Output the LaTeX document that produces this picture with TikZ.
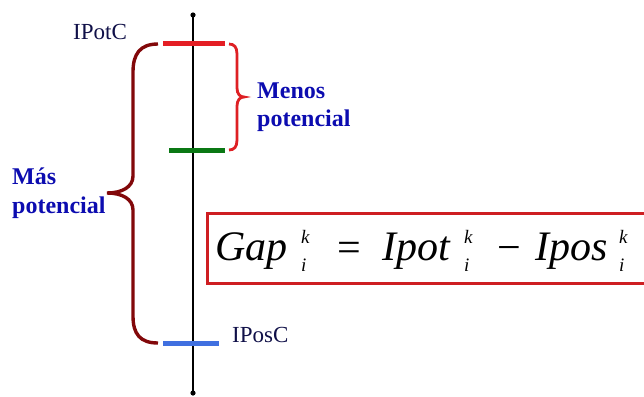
\documentclass[tikz,border=0pt]{standalone}
\usepackage{fontspec}
\setmainfont{Liberation Serif}
\definecolor{barred}{RGB}{228,30,36}
\definecolor{bracered}{RGB}{222,32,36}
\definecolor{darkred}{RGB}{130,8,10}
\definecolor{bargreen}{RGB}{10,120,20}
\definecolor{barblue}{RGB}{64,112,224}
\definecolor{txtblue}{RGB}{12,12,176}
\definecolor{navy}{RGB}{16,16,72}
\definecolor{boxred}{RGB}{206,30,34}
\newcommand\kistack{\begin{tabular}[t]{@{}l@{}}k\\[9pt] i\end{tabular}}
\begin{document}
\begin{tikzpicture}[x=1pt,y=-1pt,
  bar/.style={line width=5pt},
  lvl/.style={font=\fontsize{23}{23}\selectfont, text=navy, anchor=base west, inner sep=0pt},
  bluetxt/.style={font=\fontsize{24}{24}\selectfont\bfseries, text=txtblue, anchor=base west, inner sep=0pt},
  big/.style={font=\fontsize{42}{42}\selectfont\itshape, anchor=base west, inner sep=0pt},
  bigop/.style={font=\fontsize{42}{42}\selectfont, anchor=base west, inner sep=0pt},
  idx/.style={font=\fontsize{19}{19}\selectfont\itshape, anchor=base west, inner sep=0pt},
  frame/.style={draw=boxred, line width=3pt, anchor=north west, minimum width=470pt, minimum height=70pt, inner sep=0pt}
]
\useasboundingbox (0,0) rectangle (644,396);
% axis
\coordinate (top) at (193,15);
\coordinate (bot) at (193,393);
\draw[line width=1.6pt] (top) -- (bot);
\fill (top) circle (2.6pt);
\fill (bot) circle (2.6pt);
% bars
\coordinate (r1) at (163,44); \coordinate (r2) at (225,44);
\coordinate (g1) at (169,150); \coordinate (g2) at (225,150);
\coordinate (b1) at (163,343); \coordinate (b2) at (219,343);
\draw[bar, barred] (r1) -- (r2);
\draw[bar, bargreen] (g1) -- (g2);
\draw[bar, barblue] (b1) -- (b2);
% labels
\node[lvl] (ipotc) at (73,40) {IPotC};
\node[lvl] (iposc) at (232,342) {IPosC};
\node[bluetxt] (mas) at (12,184) {Más};
\node[bluetxt] (mas2) at (12,213) {potencial};
\node[bluetxt] (men) at (257,98) {Menos};
\node[bluetxt] (men2) at (257,126) {potencial};
% small brace
\coordinate (st) at (229,44);
\coordinate (sb) at (229,150);
\coordinate (stip) at (244,97);
\draw[bracered, line width=2.8pt]
  (st) .. controls (234,44) and (237,47) .. (237,54) -- (237,88)
  .. controls (237,94) and (240,97) .. (stip)
  .. controls (240,97) and (237,100) .. (237,106) -- (237,140)
  .. controls (237,147) and (234,150) .. (sb);
% large brace
\coordinate (lt) at (158,44);
\coordinate (lb) at (158,343);
\coordinate (ltip) at (107,193);
\draw[darkred, line width=3.4pt]
  (lt) .. controls (140,44) and (133,54) .. (133,72) -- (133,176)
  .. controls (133,187) and (122,193) .. (ltip)
  .. controls (122,193) and (133,199) .. (133,210) -- (133,316)
  .. controls (133,334) and (140,343) .. (lb);
% formula box
\node[frame] (box) at (206,212) {};
\node[big] (gap) at (215,260) {Gap};
\node[idx] (gapki) at (301,243) {\kistack};
\node[bigop] (eq) at (337,261) {=};
\node[big] (ipot) at (382,260) {Ipot};
\node[idx] (ipotki) at (464,243) {\kistack};
\node[bigop] (minus) at (497,261) {−};
\node[big] (ipos) at (535,260) {Ipos};
\node[idx] (iposki) at (619,243) {\kistack};
\end{tikzpicture}
\end{document}
